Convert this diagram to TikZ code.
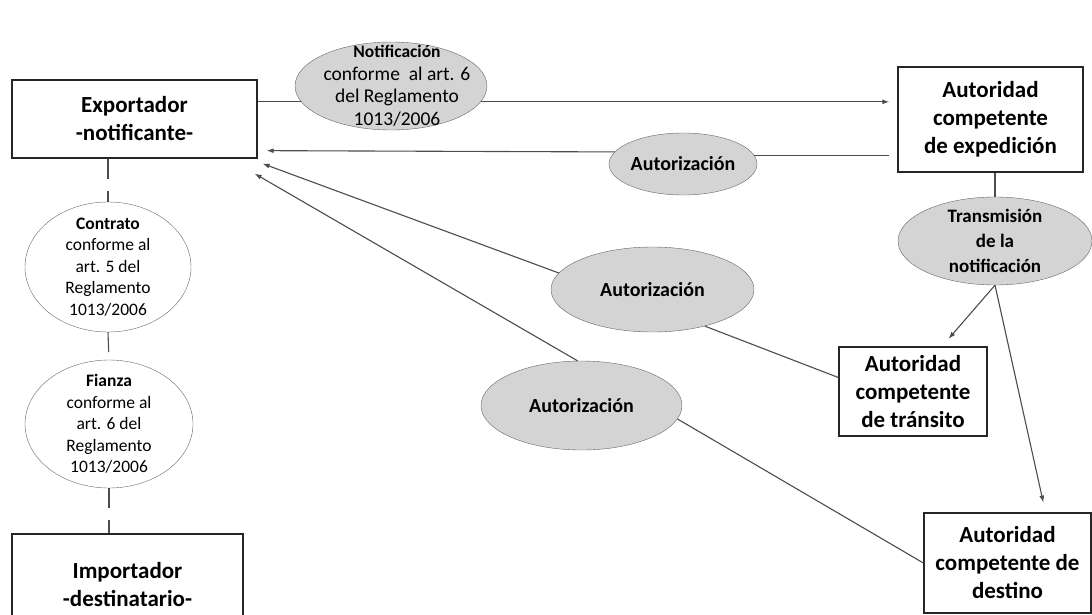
\documentclass[tikz,border=0pt]{standalone}
\usepackage{fontspec}
\setmainfont{Carlito}
\usetikzlibrary{arrows.meta,shapes.geometric}

\tikzset{
  box/.style={draw=black!85,line width=1.3pt,fill=white,align=center,inner sep=0pt,font=\bfseries\fontsize{23}{28}\selectfont},
  goval/.style={ellipse,draw=black!60,fill=black!17,inner sep=0pt},
  woval/.style={ellipse,draw=black!60,fill=white,inner sep=0pt},
  txt/.style={align=center,inner sep=0pt,font=\fontsize{17.5}{21.5}\selectfont},
  btxt/.style={align=center,inner sep=0pt,font=\bfseries\fontsize{19}{25}\selectfont},
  conn/.style={draw=black!70,line width=1.1pt},
  arr/.style={conn,-{Latex[length=7pt,width=5pt]}},
  dsh/.style={conn,dash pattern=on 20pt off 12pt},
}

\begin{document}
\begin{tikzpicture}[x=1pt,y=-1pt]
\useasboundingbox (0,0) rectangle (1092,615);
% cajas
\node[box,minimum width=245,minimum height=78] (exp) at (134.5,119) {Exportador\\-notificante-};
\node[box,minimum width=185,minimum height=105] (expd) at (990.5,119.5) {Autoridad\\competente\\de expedición};
\node[box,minimum width=148,minimum height=89] (trans) at (913,391.5) {Autoridad\\competente\\de tránsito};
\node[box,minimum width=167,minimum height=100] (dest) at (1007.5,563) {Autoridad\\competente de\\destino};
\node[box,minimum width=231,minimum height=102] (imp) at (127.5,585) {Importador\\-destinatario-};
% elipses
\node[goval,minimum width=192,minimum height=88] (notif) at (391,86) {};
\node[txt,font=\fontsize{19.5}{22.5}\selectfont] (notif-t) at ([xshift=6pt]notif) {\textbf{\fontsize{17.5}{22.5}\selectfont Notificación}\\conforme\ \ al art. 6\\del Reglamento\\1013/2006};
\node[goval,minimum width=148,minimum height=62] (aut1) at (683,164) {};
\node[btxt,font=\bfseries\fontsize{20}{25}\selectfont] (aut1-t) at (aut1) {Autorización};
\node[goval,minimum width=203,minimum height=85] (aut2) at (652.5,289.5) {};
\node[btxt,font=\bfseries\fontsize{20}{25}\selectfont] (aut2-t) at (aut2) {Autorización};
\node[goval,minimum width=201,minimum height=89] (aut3) at (581.5,405.5) {};
\node[btxt,font=\bfseries\fontsize{20}{25}\selectfont] (aut3-t) at (aut3) {Autorización};
\node[goval,minimum width=194,minimum height=88] (trm) at (995,241) {};
\node[btxt] (trm-t) at (trm) {Transmisión\\de la\\notificación};
\node[woval,minimum width=166,minimum height=130] (con) at (108,267) {};
\node[txt] (con-t) at (con) {\textbf{Contrato}\\conforme al\\art. 5 del\\Reglamento\\1013/2006};
\node[woval,minimum width=168,minimum height=128] (fia) at (109,424) {};
\node[txt] (fia-t) at (fia) {\textbf{Fianza}\\conforme al\\art. 6 del\\Reglamento\\1013/2006};
% conectores
\coordinate (r1) at ([shift={(9pt,8pt)}]exp.south east);
\coordinate (r2) at ([shift={(5pt,-5pt)}]exp.south east);
\coordinate (r3) at ([shift={(-3pt,-15pt)}]exp.south east);
\draw[conn] (exp.east |- notif.190) -- (notif.190);
\draw[arr,shorten >=8pt] (notif.-10) -- (notif.-10 -| expd.west);
\draw[conn,shorten <=8pt] (aut1.7 -| expd.west) -- (aut1.7);
\draw[arr] (aut1.170) -- (r1);
\draw[arr] (aut2.170) -- (r2);
\draw[arr] (aut3.95) -- (r3);
\draw[conn] (aut2.-35) -- ([yshift=14pt]trans.west);
\draw[conn] (aut3.-8) -- (dest.west);
\draw[conn] (expd.south -| trm.north) -- (trm.north);
\draw[arr,shorten >=10pt] (trm.south) -- ([xshift=29pt]trans.north);
\draw[arr,shorten >=10pt] (trm.south) -- ([xshift=38pt]dest.north);
\draw[dsh] (con.north |- exp.south) -- (con.north);
\draw[dsh] (con.south) -- (fia.north);
\draw[dsh] (fia.south) -- (fia.south |- imp.north);
\end{tikzpicture}
\end{document}
